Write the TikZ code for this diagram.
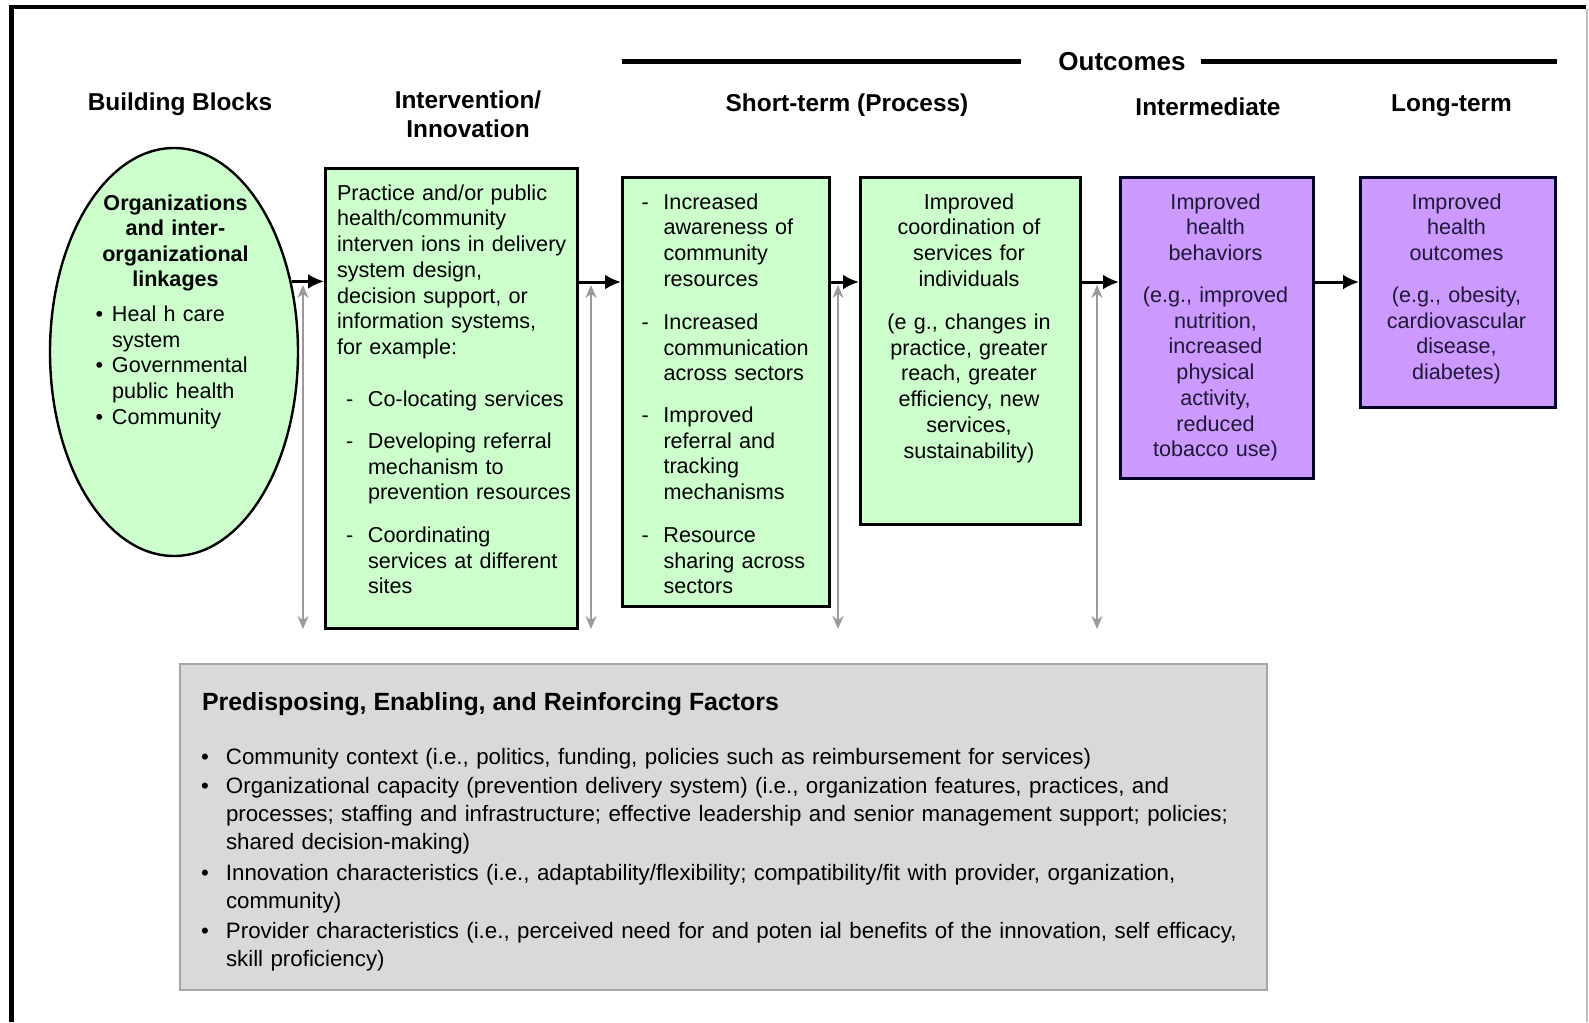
\documentclass[tikz,border=0pt]{standalone}
\usepackage{fontspec}
\setmainfont{Liberation Sans}
\usetikzlibrary{shapes.geometric,arrows.meta}
\frenchspacing
\hyphenpenalty=10000
\exhyphenpenalty=10000
\definecolor{boxgreen}{HTML}{CCFFCC}
\definecolor{boxpurple}{HTML}{CC99FF}
\definecolor{factgray}{HTML}{D9D9D9}
\definecolor{factedge}{HTML}{A6A6A6}
\definecolor{linkgray}{HTML}{9A9A9A}
\definecolor{navytext}{HTML}{1E1838}
\newcommand\dashitem{\leavevmode\llap{-\hspace{7.3pt}}}
\newcommand\bulitem[1]{\leavevmode\llap{\textbullet\hspace{#1}}}
\tikzset{
  body/.style={font=\fontsize{10.8}{12.85}\selectfont},
  head/.style={font=\fontsize{12.2}{14.5}\selectfont\bfseries, inner sep=0pt, anchor=base},
  txt/.style={body, inner sep=0pt, outer sep=0pt},
  ltxt/.style={txt, anchor=base west, align=left, text width=#1},
  ltxt/.default=125pt,
  ctxt/.style={txt, anchor=base, align=center, text width=125pt},
  factxt/.style={inner sep=0pt, outer sep=0pt, anchor=base west, align=left, text width=520pt,
    font=\fontsize{11.15}{14}\selectfont},
  greenbox/.style={draw=black, line width=1.5pt, fill=boxgreen, rectangle, anchor=north west, inner sep=0pt},
  purplebox/.style={draw=black!85!blue, line width=1.5pt, fill=boxpurple, rectangle, anchor=north west, inner sep=0pt},
  flow/.style={line width=1.5pt, -{Latex[length=8pt,width=7.5pt]}},
  link/.style={draw=linkgray, line width=1.1pt, {Stealth[length=6.5pt,width=5.5pt]}-{Stealth[length=6.5pt,width=5.5pt]}},
  rule/.style={line width=2.5pt}
}
\begin{document}
\begin{tikzpicture}[x=0.5pt,y=-0.5pt]
\fill[white] (0,0) rectangle (1589,1022);
\useasboundingbox (0,0) rectangle (1589,1022);
% frame
\draw[line width=2.2pt] (9,7) -- (1586,7);
\draw[line width=2.5pt] (11,5) -- (11,1022);
\draw[black!25, line width=0.6pt] (1587,9) -- (1587,1022);

% headers
\node[head] (hbb) at (180,110.4) {Building Blocks};
\node[head] (hiv1) at (468,108.7) {Intervention/};
\node[head] (hiv2) at (468,138) {Innovation};
\node[head] (hst) at (847,111.7) {Short-term (Process)};
\node[head] (him) at (1208,115.7) {Intermediate};
\node[head] (hlt) at (1451.5,111.7) {Long-term};
\node[head, font=\fontsize{13}{15}\selectfont\bfseries] (out) at (1122,70.5) {Outcomes};
\coordinate (ol1) at (622,62);
\coordinate (ol2) at (1021,62);
\coordinate (or1) at (1201,62);
\coordinate (or2) at (1557,62);
\draw[rule] (ol1) -- (ol2);
\draw[rule] (or1) -- (or2);

% building blocks ellipse
\node[ellipse, draw=black, line width=1.2pt, fill=boxgreen, minimum width=124pt, minimum height=204pt, inner sep=0pt] (bb) at (174,352) {};
\node[ctxt, font=\fontsize{10.8}{12.75}\selectfont\bfseries] (bbt) at (175.5,210.2) {Organizations\\and inter-\\organizational\\linkages};
\node[ltxt] (bbl) at (112,321.5) {\bulitem{4.35pt}Heal h care\\system\\\bulitem{4.35pt}Governmental\\public health\\\bulitem{4.35pt}Community};

% boxes
\node[greenbox, minimum width=126pt, minimum height=230pt] (iv) at (324,167) {};
\node[greenbox, minimum width=103.5pt, minimum height=214.65pt] (st1) at (621,175.7) {};
\node[greenbox, minimum width=110pt, minimum height=173.65pt] (st2) at (859,175.7) {};
\node[purplebox, minimum width=96.5pt, minimum height=150.65pt] (im) at (1119,175.7) {};
\node[purplebox, minimum width=97.5pt, minimum height=115.15pt] (lt) at (1359,175.7) {};

% intervention text
\node[ltxt] (ivt) at (337,200.2) {Practice and/or public\\health/community\\interven ions in delivery\\system design,\\decision support, or\\information systems,\\for example:};
\node[ltxt=110pt] (iv1) at (368,406.5) {\dashitem Co-locating services};
\node[ltxt=110pt] (iv2) at (368,448.5) {\dashitem Developing referral\\mechanism to\\prevention resources};
\node[ltxt=110pt] (iv3) at (368,542.5) {\dashitem Coordinating\\services at different\\sites};

% short-term 1
\node[ltxt=100pt] (s1a) at (663.5,209.2) {\dashitem Increased\\awareness of\\community\\resources};
\node[ltxt=100pt] (s1b) at (663.5,329.5) {\dashitem Increased\\communication\\across sectors};
\node[ltxt=100pt] (s1c) at (663.5,422.5) {\dashitem Improved\\referral and\\tracking\\mechanisms};
\node[ltxt=100pt] (s1d) at (663.5,542.5) {\dashitem Resource\\sharing across\\sectors};

% short-term 2
\node[ctxt] (s2a) at (969,209.2) {Improved\\coordination of\\services for\\individuals};
\node[ctxt] (s2b) at (969,329.5) {(e g., changes in\\practice, greater\\reach, greater\\efficiency, new\\services,\\sustainability)};

% intermediate
\node[ctxt, text=navytext] (ima) at (1215.5,209.2) {Improved\\health\\behaviors};
\node[ctxt, text=navytext] (imb) at (1215.5,302.5) {(e.g., improved\\nutrition,\\increased\\physical\\activity,\\reduced\\tobacco use)};

% long-term
\node[ctxt, text=navytext] (lta) at (1456.5,209.2) {Improved\\health\\outcomes};
\node[ctxt, text=navytext] (ltb) at (1456.5,302.5) {(e.g., obesity,\\cardiovascular\\disease,\\diabetes)};

% flow arrows
\coordinate (ay) at (0,282);
\draw[flow] (bb.31) -- (bb.31 -| iv.west);
\draw[flow] (iv.east |- ay) -- (st1.west |- ay);
\draw[flow] (st1.east |- ay) -- (st2.west |- ay);
\draw[flow] (st2.east |- ay) -- (im.west |- ay);
\draw[flow] (im.east |- ay) -- (lt.west |- ay);

% two-way links to factors
\coordinate (g1t) at (303,285); \coordinate (g1b) at (303,629);
\coordinate (g2t) at (591,285); \coordinate (g2b) at (591,629);
\coordinate (g3t) at (838,285); \coordinate (g3b) at (838,629);
\coordinate (g4t) at (1097,285); \coordinate (g4b) at (1097,629);
\draw[link] (g1t) -- (g1b);
\draw[link] (g2t) -- (g2b);
\draw[link] (g3t) -- (g3b);
\draw[link] (g4t) -- (g4b);

% factors box
\node[rectangle, draw=factedge, line width=1pt, fill=factgray, anchor=north west, inner sep=0pt,
  minimum width=543.5pt, minimum height=163pt] (pf) at (179,663) {};
\node[anchor=base west, inner sep=0pt, font=\fontsize{12.45}{15}\selectfont\bfseries] (pft) at (201.6,710.5) {Predisposing, Enabling, and Reinforcing Factors};
\node[factxt] (f1) at (226,764.7) {\bulitem{8.5pt}Community context (i.e., politics, funding, policies such as reimbursement for services)};
\node[factxt] (f2) at (226,793.7) {\bulitem{8.5pt}Organizational capacity (prevention delivery system) (i.e., organization features, practices, and\\processes; staffing and infrastructure; effective leadership and senior management support; policies;\\shared decision-making)};
\node[factxt] (f3) at (226,880.7) {\bulitem{8.5pt}Innovation characteristics (i.e., adaptability/flexibility; compatibility/fit with provider, organization,\\community)};
\node[factxt] (f4) at (226,938) {\bulitem{8.5pt}Provider characteristics (i.e., perceived need for and poten ial benefits of the innovation, self efficacy,\\skill proficiency)};
\end{tikzpicture}
\end{document}
